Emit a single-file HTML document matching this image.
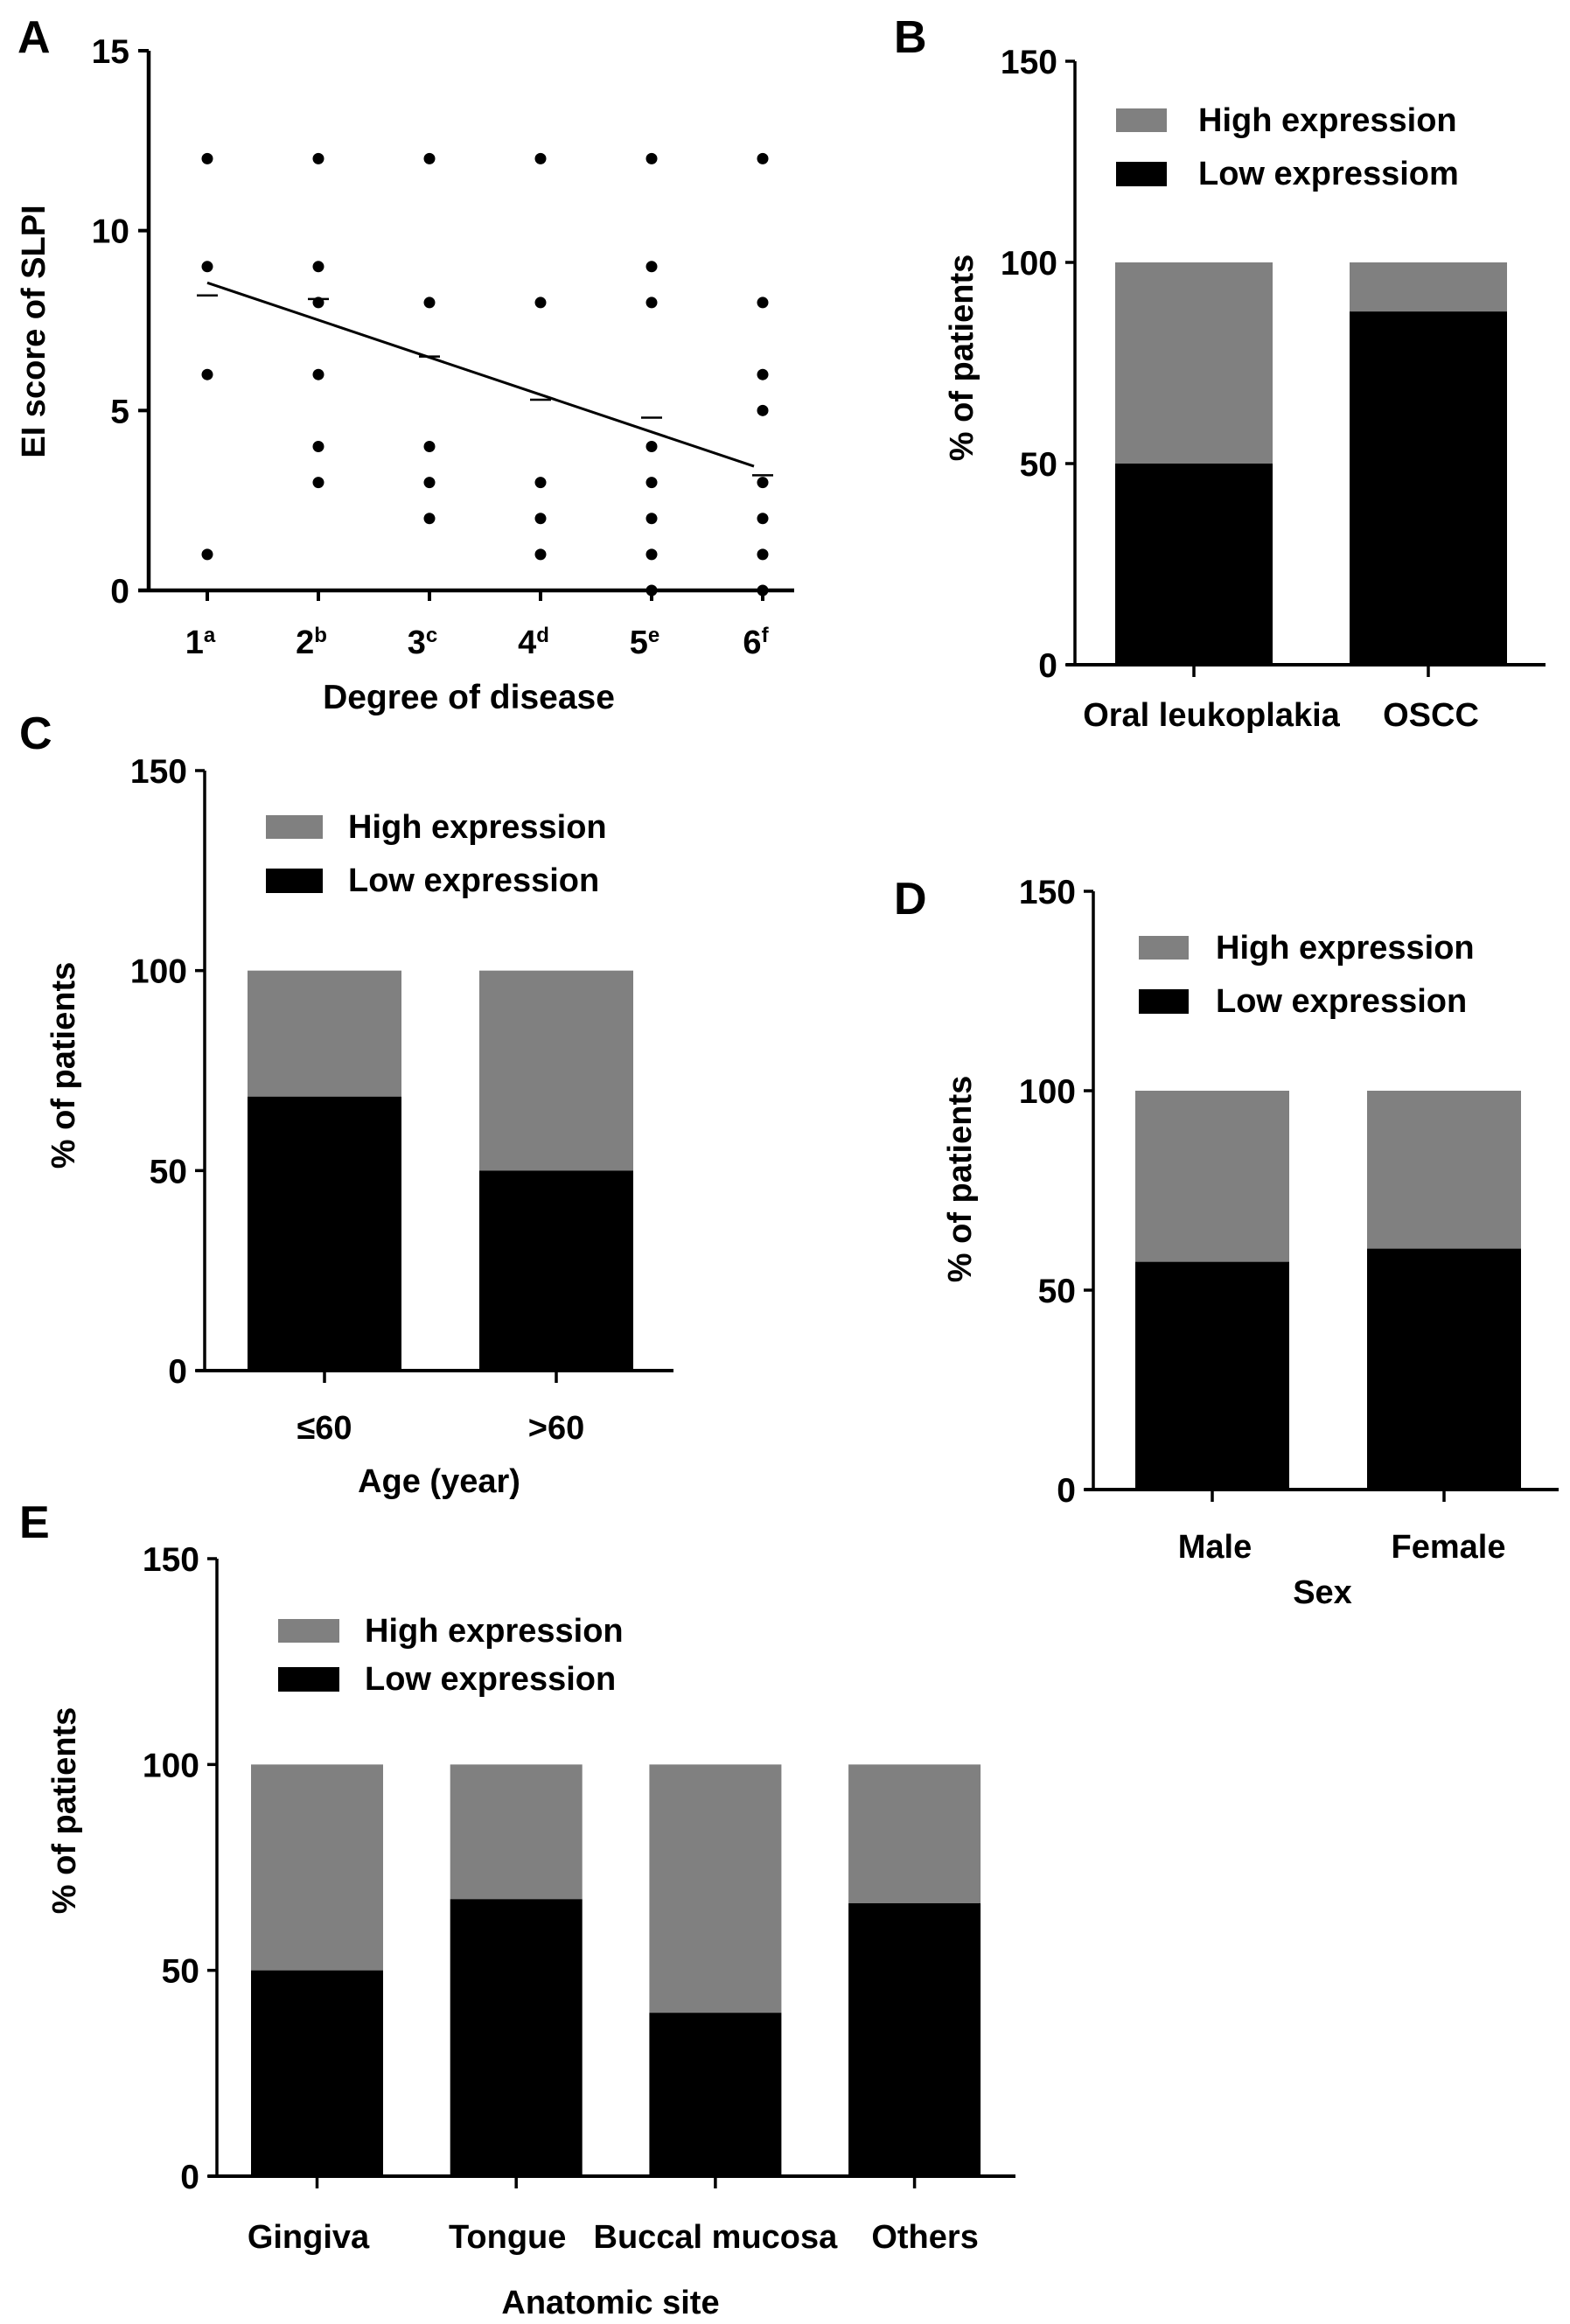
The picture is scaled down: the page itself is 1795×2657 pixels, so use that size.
<!DOCTYPE html>
<html><head><meta charset="utf-8">
<style>
html,body{margin:0;padding:0;background:#fff;}
svg{display:block;font-family:"Liberation Sans",Arial,sans-serif;font-weight:bold;}
</style></head>
<body>
<svg id="fig" width="1795" height="2657" viewBox="0 0 1795 2657" xmlns="http://www.w3.org/2000/svg"></svg>
<script>
// ---------- Panel A data ----------
const aCategories = ["1","2","3","4","5","6"];
const aSuperscripts = ["a","b","c","d","e","f"];
const aPoints = [
  [12,9,6,1],
  [12,9,8,6,4,3],
  [12,8,4,3,2],
  [12,8,3,2,1],
  [12,9,8,4,3,2,1,0],
  [12,8,6,5,3,2,1,0]
];
const aMeans = [8.2, 8.1, 6.5, 5.3, 4.8, 3.2];
const aFitStart = 8.55;
const aFitEnd = 3.45;
const aTicks = [0,5,10,15];

// ---------- Bar panel data ----------
const barTicks = [0,50,100,150];
const bCategories = ["Oral leukoplakia","OSCC"];
const bLow = [50, 87.8];
const cCategories = ["≤60",">60"];
const cLow = [68.5, 50];
const dCategories = ["Male","Female"];
const dLow = [57.1, 60.4];
const eCategories = ["Gingiva","Tongue","Buccal mucosa","Others"];
const eLow = [50, 67.3, 39.7, 66.3];

const NS = "http://www.w3.org/2000/svg";
const svg = document.getElementById("fig");
function mk(tag, attrs, parent){
  const e = document.createElementNS(NS, tag);
  for (const k in attrs) e.setAttribute(k, attrs[k]);
  (parent||svg).appendChild(e);
  return e;
}
function txt(s, attrs, parent){ const t = mk("text", attrs, parent); t.textContent = s; return t; }

// ---------- Panel A ----------
(function(){
  const g = mk("g", {});
  
  
  const x0 = 170, yTop = 58, yBot = 675;
  const cx0 = 237, cx1 = 872;
  const yS = v => yBot - (v/15)*(yBot-yTop);
  const xS = i => cx0 + i*(cx1-cx0)/(aCategories.length-1);
  const lab = txt("A", {x:20, y:60, "font-size":52}, g);
  
  
  const ya = mk("line", {x1:x0, y1:yTop, x2:x0, y2:yBot, stroke:"#000","stroke-width":4.5}, g);
  
  
  const xa = mk("line", {x1:x0-12, y1:yBot, x2:908, y2:yBot, stroke:"#000","stroke-width":4.5}, g);
  
  
  aTicks.forEach(t=>{
    mk("line",{x1:x0-12,y1:yS(t),x2:x0,y2:yS(t),stroke:"#000","stroke-width":4},g);
    const tl = txt(String(t),{x:x0-22,y:yS(t)+14,"font-size":39,"text-anchor":"end"},g);
    
    
  });
  aCategories.forEach((c,i)=>{
    const x = xS(i);
    mk("line",{x1:x,y1:yBot,x2:x,y2:yBot+12,stroke:"#000","stroke-width":4},g);
    const tl = txt("",{x:x-8,y:747,"font-size":38,"text-anchor":"middle"},g);
    
    
    const s1 = mk("tspan",{},tl); s1.textContent = c;
    const s2 = mk("tspan",{"font-size":24,dy:-13},tl); s2.textContent = aSuperscripts[i];
    aPoints[i].forEach(v=>{
      const d = mk("circle",{cx:x,cy:yS(v),r:6.5,fill:"#000"},g);
      
      
    });
    const m = mk("line",{x1:x-12,y1:yS(aMeans[i]),x2:x+12,y2:yS(aMeans[i]),stroke:"#000","stroke-width":2.5},g);
    
    
  });
  const fl = mk("line",{x1:xS(0),y1:yS(aFitStart),x2:xS(5)-10,y2:yS(aFitEnd),stroke:"#000","stroke-width":3},g);
  
  
  const yt = txt("EI score of SLPI",{x:0,y:0,"font-size":38,"text-anchor":"middle",transform:"translate(51,379) rotate(-90)"},g);
  
  
  const xt = txt("Degree of disease",{x:536,y:810,"font-size":39,"text-anchor":"middle"},g);
  
  
})();

// ---------- Bar panel builder ----------
function barPanel(p, cats, low){
  const g = mk("g", {});
  
  
  const yS = v => p.yBot - (v/150)*(p.yBot-p.yTop);
  const lab = txt(p.label,{x:p.labX,y:p.labY,"font-size":52},g);
  
  
  cats.forEach((c,i)=>{
    const x = p.barX[0] + i*p.step;
    const w = p.barW;
    const hi = mk("rect",{x:x,y:yS(100),width:w,height:yS(low[i])-yS(100),fill:"#808080"},g);
    
    
    const lo = mk("rect",{x:x,y:yS(low[i]),width:w,height:yS(0)-yS(low[i]),fill:"#000"},g);
    
    
    const cx = x + w/2;
    mk("line",{x1:cx,y1:p.yBot,x2:cx,y2:p.yBot+14,stroke:"#000","stroke-width":3.5},g);
    const tl = txt(c,{x:cx+(p.labOff?p.labOff[i]:0),y:p.tickY,"font-size":38,"text-anchor":"middle"},g);
    
    
  });
  const ya = mk("line",{x1:p.x0,y1:p.yTop,x2:p.x0,y2:p.yBot,stroke:"#000","stroke-width":3.5},g);
  
  
  const xa = mk("line",{x1:p.x0-10,y1:p.yBot,x2:p.xEnd,y2:p.yBot,stroke:"#000","stroke-width":4},g);
  
  
  barTicks.forEach(t=>{
    mk("line",{x1:p.x0-11,y1:yS(t),x2:p.x0,y2:yS(t),stroke:"#000","stroke-width":3.5},g);
    const tl = txt(String(t),{x:p.x0-20,y:yS(t)+14,"font-size":39,"text-anchor":"end"},g);
    
    
  });
  const lg = mk("g",{},g);
  
  
  const e1 = mk("rect",{x:p.legX,y:p.legY1,width:p.legW,height:27,fill:"#808080"},lg);
  
  
  const t1 = txt("High expression",{x:p.legTX,y:p.legY1+26,"font-size":38},lg);
  
  
  const e2 = mk("rect",{x:p.legX,y:p.legY2,width:p.legW,height:28,fill:"#000"},lg);
  
  
  const t2 = txt(p.lowText,{x:p.legTX,y:p.legY2+26,"font-size":38},lg);
  
  
  const yt = txt(p.yTitle,{x:0,y:0,"font-size":38,"text-anchor":"middle",transform:"translate("+p.yTitleX+","+p.yTitleY+") rotate(-90)"},g);
  
  
  if (p.xTitle){
    const xt = txt(p.xTitle,{x:p.xTitleX,y:p.xTitleY,"font-size":38,"text-anchor":"middle"},g);
    
    
  }
}

barPanel({name:"panel-b",label:"B",labX:1022,labY:60,x0:1229,xEnd:1767,yTop:70,yBot:760,
  barX:[1275],step:268,barW:180,tickY:830,labOff:[20,3],
  legX:1276,legW:58,legY1:124,legY2:185,legTX:1370,lowText:"Low expressiom",
  yTitle:"%  of patients",yTitleX:1112,yTitleY:409},bCategories,bLow);

barPanel({name:"panel-c",label:"C",labX:22,labY:856,x0:234,xEnd:770,yTop:881,yBot:1567,
  barX:[283],step:265,barW:176,tickY:1645,
  legX:304,legW:65,legY1:932,legY2:993,legTX:398,lowText:"Low expression",
  yTitle:"% of patients",yTitleX:85,yTitleY:1218,xTitle:"Age (year)",xTitleX:502,xTitleY:1706},cCategories,cLow);

barPanel({name:"panel-d",label:"D",labX:1022,labY:1045,x0:1250,xEnd:1782,yTop:1019,yBot:1703,
  barX:[1298],step:265,barW:176,tickY:1781,labOff:[3,5],
  legX:1302,legW:57,legY1:1070,legY2:1131,legTX:1390,lowText:"Low expression",
  yTitle:"% of patients",yTitleX:1110,yTitleY:1348,xTitle:"Sex",xTitleX:1512,xTitleY:1833},dCategories,dLow);

barPanel({name:"panel-e",label:"E",labX:22,labY:1758,x0:248,xEnd:1161,yTop:1782,yBot:2488,
  barX:[287],step:227.7,barW:151,tickY:2570,labOff:[-10,-10,0,12],
  legX:318,legW:70,legY1:1851,legY2:1906,legTX:417,lowText:"Low expression",
  yTitle:"% of patients",yTitleX:86,yTitleY:2070,xTitle:"Anatomic site",xTitleX:698,xTitleY:2645},eCategories,eLow);
</script>
</body></html>
